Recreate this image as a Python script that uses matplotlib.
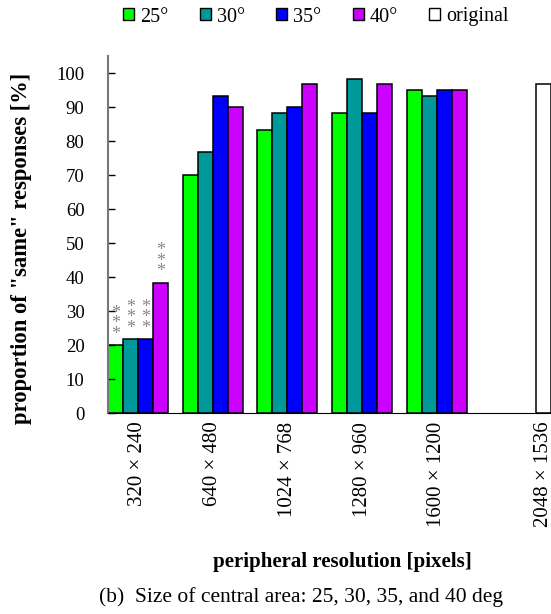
import matplotlib.pyplot as plt
from matplotlib.patches import Patch

plt.rcParams['font.family'] = ['Liberation Serif', 'DejaVu Serif']

# data
resolutions = ['320 × 240', '640 × 480', '1024 × 768', '1280 × 960', '1600 × 1200']
series_names = ['25°', '30°', '35°', '40°']
series_colors = ['#00ff00', '#009999', '#0000ff', '#cc00ff']
values = [
    [20.0, 70.0, 83.3, 88.3, 95.0],   # 25 deg
    [21.7, 76.7, 88.3, 98.3, 93.3],   # 30 deg
    [21.7, 93.3, 90.0, 88.3, 95.0],   # 35 deg
    [38.3, 90.0, 96.7, 96.7, 95.0],   # 40 deg
]
original_label = '2048 × 1536'
original_value = 96.7
signif = ['***', '***', '***', '***']  # marks on the 320x240 group

fig = plt.figure(figsize=(5.51, 6.14), dpi=100)
ax = fig.add_axes([108 / 551, 200.7 / 614, 448.5 / 551, 357.3 / 614])

group_centers = [5 * g + 2 for g in range(len(resolutions))]
for i, (name, col) in enumerate(zip(series_names, series_colors)):
    xs = [c + (i - 1.5) for c in group_centers]
    ax.bar(xs, values[i], width=1.0, color=col, edgecolor='black', linewidth=1.1)
    # significance stars stacked above the first group
    ax.text(xs[0], values[i][0] + 0.8, '\n'.join(signif[i]), ha='center', va='bottom',
            color='#888888', fontsize=13, linespacing=0.5)

orig_x = 29.15
ax.bar([orig_x], [original_value], width=1.0, color='white', edgecolor='black', linewidth=1.1)

ax.set_xlim(0, 30)
ax.set_ylim(0, 105)
ax.set_yticks(range(0, 101, 10))
ax.tick_params(axis='y', direction='in', length=5, width=1, pad=17, labelsize=13.5)
ax.set_xticks(group_centers + [orig_x], resolutions + [original_label], rotation=90)
ax.tick_params(axis='x', length=0, pad=6, labelsize=15)
for lab in ax.get_xticklabels():
    lab.set_verticalalignment('top')

ax.spines['top'].set_visible(False)
ax.spines['right'].set_visible(False)
ax.spines['left'].set_color('#777777')
ax.spines['left'].set_linewidth(1.5)

fig.text(21.5 / 551, 1 - 248 / 614, 'proportion of "same" responses [%]', rotation=90,
         ha='center', va='center', fontsize=16.3, fontweight='bold')
fig.text(342 / 551, 1 - 562 / 614, 'peripheral resolution [pixels]', ha='center', va='center',
         fontsize=15, fontweight='bold')
fig.text(301 / 551, 1 - 597 / 614, '(b)  Size of central area: 25, 30, 35, and 40 deg',
         ha='center', va='center', fontsize=15.5)

handles = [Patch(facecolor=c, edgecolor='black', linewidth=1) for c in series_colors]
handles.append(Patch(facecolor='white', edgecolor='black', linewidth=1))
fig.legend(handles, series_names + ['original'], loc='center', ncol=5,
           bbox_to_anchor=(316 / 551, 1 - 17 / 614), frameon=False, fontsize=14.5,
           handlelength=0.55, handleheight=0.55, handletextpad=0.3, columnspacing=1.55)

fig.savefig('out.png', dpi=100)
